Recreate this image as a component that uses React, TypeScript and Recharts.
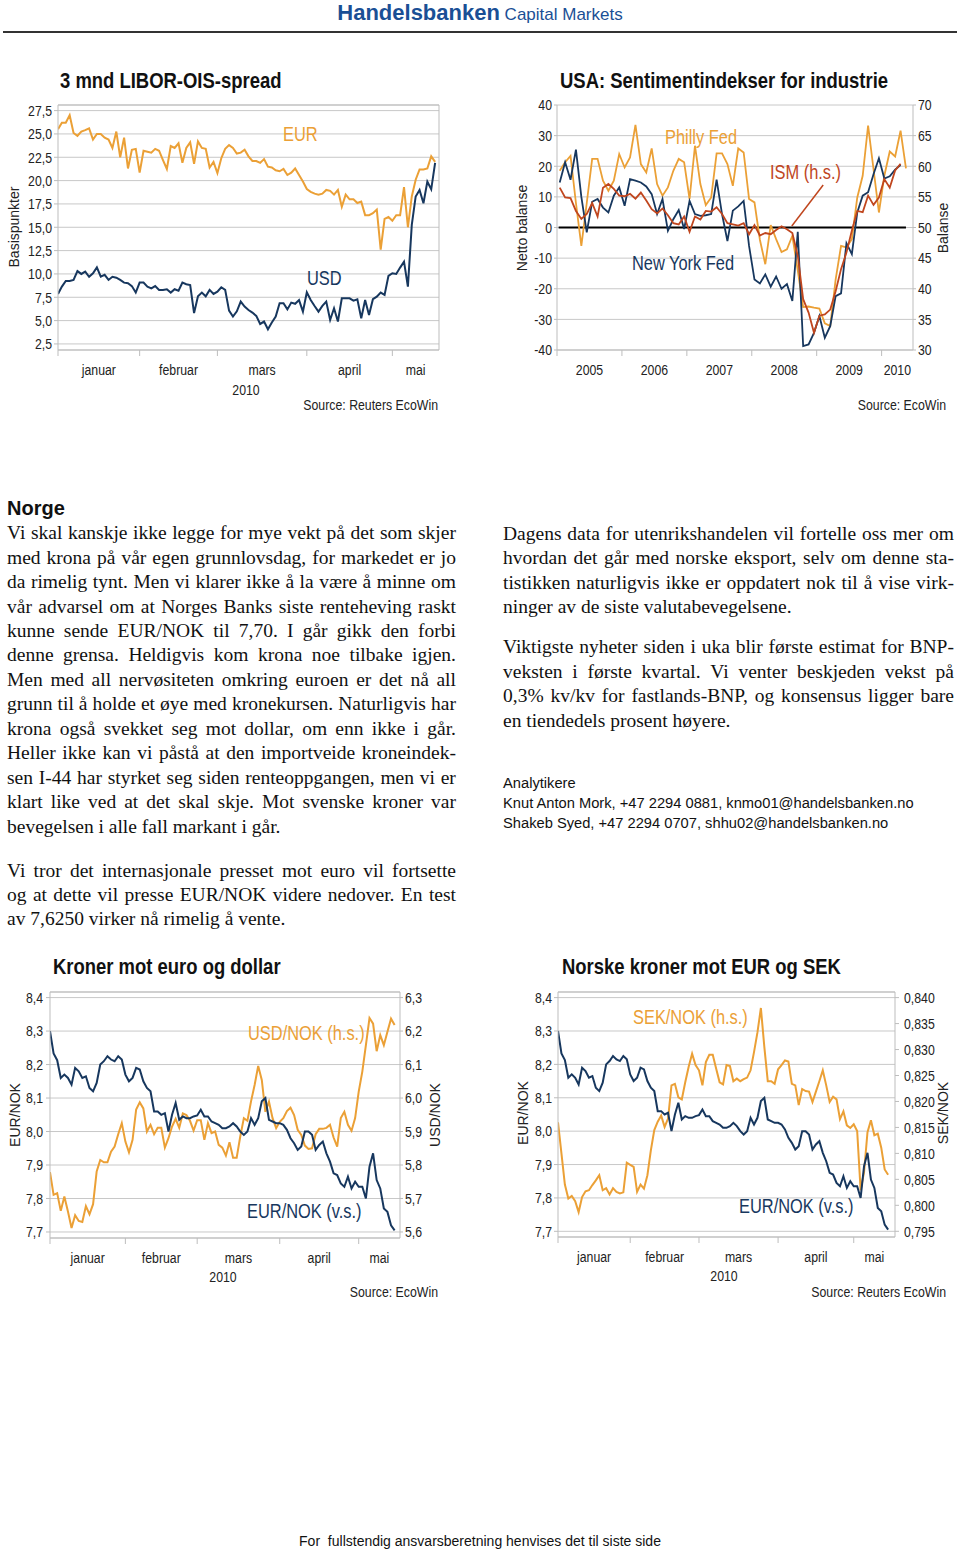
import React from 'react';
import { LineChart, Line, XAxis, YAxis, CartesianGrid, ReferenceLine } from 'recharts';

const NARROW = "'Liberation Sans', Arial, sans-serif";
const SANS = "'Liberation Sans', Arial, sans-serif";
const SERIF = "'Liberation Serif', 'Times New Roman', serif";
const SX = 0.82; // horizontal squeeze emulating a narrow face

const ORANGE = '#EBA036';
const NAVY = '#17375E';
const RED = '#C0461E';
const GRID = '#C8C8C8';
const FRAME = '#BDBDBD';
const TXT = '#222';
const BLUE = '#1a4f95';

// ---------- Chart 1: 3 mnd LIBOR-OIS-spread (business-day index) ----------
const liborEur = [
  25.5, 26.2, 26.2, 27.0, 25.1, 24.8, 25.25, 25.4, 25.6, 24.4,
  25.0, 25.0, 24.6, 24.4, 23.5, 25.25, 22.5, 24.6, 21.3, 23.3,
  23.4, 20.85, 23.2, 23.1, 23.0, 23.4, 23.2, 22.2, 21.25, 23.7,
  23.5, 24.0, 21.9, 23.5, 24.1, 21.8, 24.2, 23.5, 23.4, 21.4,
  22.0, 20.8, 22.4, 23.4, 23.8, 23.5, 22.9, 23.0, 23.3, 22.6,
  22.1, 22.1, 21.9, 22.3, 21.5, 21.4, 21.1, 21.0, 21.25, 20.6,
  20.85, 21.3, 20.6, 19.9, 19.1, 18.8, 18.6, 18.5, 18.6, 19.0,
  18.9, 18.5, 19.0, 17.2, 18.5, 18.0, 18.0, 17.6, 17.75, 16.3,
  16.3, 16.5, 16.9, 12.6, 15.9, 16.1, 15.7, 16.3, 16.3, 19.3,
  15.0, 18.3, 20.1, 21.2, 21.2, 21.3, 22.6, 22.0,
];
const liborUsd = [
  7.86, 8.64, 9.25, 9.25, 9.36, 10.3, 10.0, 10.25, 9.7, 10.07,
  10.7, 9.7, 9.9, 9.36, 9.7, 9.6, 9.36, 9.07, 9.0, 8.7,
  8.0, 9.07, 9.07, 8.64, 8.46, 8.7, 8.29, 8.29, 8.36, 8.0,
  8.36, 8.2, 9.07, 8.9, 8.8, 5.8, 7.6, 8.0, 7.6, 8.29,
  7.86, 8.1, 8.57, 8.29, 6.07, 5.43, 6.0, 7.04, 6.5, 6.14,
  5.86, 5.5, 4.64, 4.9, 4.07, 4.79, 5.43, 6.86, 6.86, 6.2,
  6.93, 6.8, 7.2, 5.96, 8.04, 7.21, 6.57, 5.96, 6.57, 7.04,
  5.07, 6.32, 4.9, 7.39, 7.39, 7.39, 7.14, 7.29, 5.25, 7.21,
  5.61, 7.29, 7.57, 8.0, 7.75, 9.79, 10.07, 10.0, 10.68, 11.32,
  8.64, 15.25, 18.3, 19.0, 17.57, 19.9, 19.07, 21.9,
];
const liborTicks = [2.5, 5, 7.5, 10, 12.5, 15, 17.5, 20, 22.5, 25, 27.5];
const liborDomain: [number, number] = [1.85, 28.1];
const monthNames = ['januar', 'februar', 'mars', 'april', 'mai'];
const monthStarts = [0, 21, 41, 64, 86];
const liborEnd = 98;

// ---------- Chart 2: USA sentiment (monthly, Jan 2005 = 0) ----------
const philly = [
  18.5, 21.3, 23.4, 8, -6, 8, 22.4, 22.4, 15.3, 12.0,
  15.3, 24, 19.6, 22.9, 33.5, 20.7, 18.0, 25.8, 14.2, 10.4,
  13.1, 18.5, 22.4, 21.3, 9.3, 26.7, 14.2, 7.3, 9.8, 24.2,
  24.2, 20.7, 13.6, 25.8, 24.5, 9.3, 8.2, -4, -12, 0.8,
  -3.8, -8, -7.1, -2.7, -14, -26, -25.8, -26.2, -26.5, -31.3,
  -32.2, -17, -6, -6.5, -3.8, 9.8, 16.9, 33.3, 19.1, 4.9,
  16.9, 24.8, 23.2, 31.6, 19.3,
];
const nyFed = [
  14.7, 21.3, 15.6, 25.4, 10, -1.6, 8.4, 9.3, 6.5, 4.9,
  10.4, 13.1, 7.1, 15.8, 15.3, 14.7, 13.4, 10.9, 4.4, 9.3,
  -1.1, 2.7, 5.7, -0.5, 8.7, 4.4, 3.8, 4.0, 4.4, 15.6,
  4.4, -4.4, 5.5, 6.9, 8.7, -6, -17, -18.3, -15.3, -19.3,
  -16, -20, -18.5, -24, -1.4, -38.7, -38.2, -34.4, -28.9, -36,
  -32.2, -22.4, -21.5, -5.1, -8.7, 4.9, 10.4, 11.5, 17.4, 22.6,
  16.0, 16.7, 18.9, 20.4,
];
const ism = [
  56.5, 54.9, 54.8, 52.7, 51.4, 52.2, 54.0, 51.8, 56.5, 57.1,
  56.3, 55.2, 55.1, 55.5, 54.7, 55.7, 54.4, 53.0, 52.3, 53.1,
  52.0, 50.7, 50.5, 51.8, 49.3, 51.8, 51.3, 52.7, 52.6, 53.3,
  52.2, 50.7, 50.5, 50.3, 50.7, 48.9, 50.4, 48.7, 49.1, 48.9,
  49.6, 50.2, 49.7, 49.1, 45.4, 38.3, 36.1, 32.8, 35.6, 35.8,
  36.6, 39.6, 43.2, 45.9, 49.5, 52.7, 52.5, 55.2, 53.7, 54.9,
  57.9, 56.5, 59.3, 60.4,
];
const sentLeftTicks = [-40, -30, -20, -10, 0, 10, 20, 30, 40];
const sentRightTicks = [30, 35, 40, 45, 50, 55, 60, 65, 70];
const yearNames = ['2005', '2006', '2007', '2008', '2009', '2010'];
const yearStarts = [0, 12, 24, 36, 48, 60];
const sentEnd = 65.8;
const zeroSegment = [{ x: 0.3, y: 0 }, { x: 64.5, y: 0 }];
const ismArrow = [{ x: 43.4, y: 0.5 }, { x: 49.2, y: 13.9 }];

// ---------- Charts 3 & 4: NOK crosses (business-day index) ----------
const eurNok = [
  8.30, 8.233, 8.213, 8.16, 8.17, 8.16, 8.14, 8.19, 8.18, 8.16,
  8.165, 8.13, 8.12, 8.145, 8.20, 8.21, 8.225, 8.215, 8.21, 8.225,
  8.215, 8.17, 8.15, 8.16, 8.19, 8.185, 8.15, 8.13, 8.12, 8.06,
  8.06, 8.05, 8.055, 8.0, 8.05, 8.085, 8.035, 8.045, 8.04, 8.04,
  8.045, 8.048, 8.065, 8.045, 8.045, 8.03, 8.025, 8.02, 8.01, 8.01,
  8.015, 8.025, 8.015, 8.0, 7.99, 8.0, 8.04, 8.02, 8.04, 8.09,
  8.1, 8.035, 8.03, 8.025, 8.025, 8.02, 8.005, 7.98, 7.965, 7.945,
  7.955, 8.0, 8.0, 7.99, 7.945, 7.96, 7.97, 7.935, 7.91, 7.875,
  7.87, 7.845, 7.835, 7.865, 7.83, 7.85, 7.835, 7.835, 7.8, 7.895,
  7.935, 7.855, 7.83, 7.77, 7.76, 7.72, 7.705,
];
const usdNok = [
  5.779, 5.711, 5.716, 5.663, 5.706, 5.661, 5.612, 5.65, 5.633, 5.63,
  5.677, 5.653, 5.683, 5.781, 5.815, 5.808, 5.808, 5.84, 5.855, 5.892,
  5.925, 5.87, 5.838, 5.875, 5.966, 5.987, 5.969, 5.9, 5.92, 5.892,
  5.911, 5.911, 5.852, 5.88, 5.915, 5.938, 5.911, 5.954, 5.949, 5.932,
  5.903, 5.934, 5.934, 5.875, 5.925, 5.895, 5.9, 5.86, 5.852, 5.828,
  5.868, 5.822, 5.822, 5.885, 5.94, 5.932, 5.99, 6.039, 6.096, 6.054,
  5.959, 5.989, 5.94, 5.91, 5.929, 5.94, 5.961, 5.971, 5.949, 5.905,
  5.89, 5.858, 5.848, 5.85, 5.892, 5.908, 5.908, 5.911, 5.92, 5.882,
  5.855, 5.94, 5.959, 5.92, 5.902, 5.94, 6.019, 6.079, 6.158, 6.239,
  6.222, 6.14, 6.188, 6.158, 6.198, 6.237, 6.218,
];
const sekNok = [
  0.8160, 0.8100, 0.8040, 0.8013, 0.8018, 0.8008, 0.7987, 0.8016, 0.8027, 0.8029,
  0.8039, 0.8048, 0.8058, 0.8029, 0.8033, 0.8021, 0.8033, 0.8026, 0.8023, 0.8025,
  0.8082, 0.8078, 0.8074, 0.8026, 0.8040, 0.8032, 0.8058, 0.8106, 0.8145, 0.8161,
  0.8173, 0.8151, 0.8167, 0.8231, 0.8234, 0.8208, 0.8204, 0.8237, 0.8267, 0.8292,
  0.8270, 0.8260, 0.8231, 0.8276, 0.8290, 0.8290, 0.8263, 0.8237, 0.8233, 0.8270,
  0.8268, 0.8239, 0.8244, 0.8239, 0.8243, 0.8246, 0.8260, 0.8295, 0.8333, 0.8380,
  0.8305, 0.8239, 0.8239, 0.8234, 0.8262, 0.8270, 0.8279, 0.8277, 0.8234, 0.8231,
  0.8193, 0.8224, 0.8220, 0.8219, 0.8199, 0.8219, 0.8239, 0.8260, 0.8231, 0.8199,
  0.8209, 0.8204, 0.8166, 0.8181, 0.8154, 0.8149, 0.8156, 0.8143, 0.8029, 0.8064,
  0.8141, 0.8164, 0.8135, 0.8138, 0.8111, 0.8069, 0.8059,
];
const eurNokTicks = [7.7, 7.8, 7.9, 8.0, 8.1, 8.2, 8.3, 8.4];
const usdNokTicks = [5.6, 5.7, 5.8, 5.9, 6.0, 6.1, 6.2, 6.3];
const sekNokTicks = [0.795, 0.8, 0.805, 0.81, 0.815, 0.82, 0.825, 0.83, 0.835, 0.84];
const chart3End = 97.5;
const chart4End = 98;

// ---------- text ----------
const leftPara1 = [
  'Vi skal kanskje ikke legge for mye vekt på det som skjer',
  'med krona på vår egen grunnlovsdag, for markedet er jo',
  'da rimelig tynt. Men vi klarer ikke å la være å minne om',
  'vår advarsel om at Norges Banks siste renteheving raskt',
  'kunne sende EUR/NOK til 7,70. I går gikk den forbi',
  'denne grensa. Heldigvis kom krona noe tilbake igjen.',
  'Men med all nervøsiteten omkring euroen er det nå all',
  'grunn til å holde et øye med kronekursen. Naturligvis har',
  'krona også svekket seg mot dollar, om enn ikke i går.',
  'Heller ikke kan vi påstå at den importveide kroneindek-',
  'sen I-44 har styrket seg siden renteoppgangen, men vi er',
  'klart like ved at det skal skje. Mot svenske kroner var',
  'bevegelsen i alle fall markant i går.',
];
const leftPara2 = [
  'Vi tror det internasjonale presset mot euro vil fortsette',
  'og at dette vil presse EUR/NOK videre nedover. En test',
  'av 7,6250 virker nå rimelig å vente.',
];
const rightPara1 = [
  'Dagens data for utenrikshandelen vil fortelle oss mer om',
  'hvordan det går med norske eksport, selv om denne sta-',
  'tistikken naturligvis ikke er oppdatert nok til å vise virk-',
  'ninger av de siste valutabevegelsene.',
];
const rightPara2 = [
  'Viktigste nyheter siden i uka blir første estimat for BNP-',
  'veksten i første kvartal. Vi venter beskjeden vekst på',
  '0,3% kv/kv for fastlands-BNP, og konsensus ligger bare',
  'en tiendedels prosent høyere.',
];
const analysts = [
  'Analytikere',
  'Knut Anton Mork, +47 2294 0881, knmo01@handelsbanken.no',
  'Shakeb Syed, +47 2294 0707, shhu02@handelsbanken.no',
];

// ---------- helpers ----------
const fmt = (d: number) => (v: number) => v.toFixed(d).replace('.', ',');

function periodTicks(starts: number[], end: number, names: string[]) {
  const mids = starts.map((s, i) => (s + (i + 1 < starts.length ? starts[i + 1] : end)) / 2);
  const labelAt = new Map<number, string>();
  mids.forEach((m, i) => labelAt.set(m, names[i]));
  const ticks = [...starts, ...mids];
  const render = (props: any) => {
    const { x, y, payload } = props;
    const v = payload.value;
    if (labelAt.has(v)) {
      return (
        <text transform={`translate(${x},${y + 25}) scale(${SX},1)`} textAnchor="middle" fontFamily={NARROW} fontSize={15} fill={TXT}>
          {labelAt.get(v)}
        </text>
      );
    }
    return <line x1={x} y1={y} x2={x} y2={y + 6} stroke={FRAME} strokeWidth={1} />;
  };
  return { ticks, render };
}

const yTick = (f: (v: number) => string) => (props: any) => {
  const { x, y, payload, textAnchor } = props;
  return (
    <text transform={`translate(${x},${y}) scale(${SX},1)`} textAnchor={textAnchor} dy="0.355em" fontFamily={NARROW} fontSize={15} fill={TXT}>
      {f(payload.value)}
    </text>
  );
};
const intFmt = (v: number) => String(v);

function Txt({ x, y, text, size, color = TXT, font = NARROW, weight = 400, anchor = 'start', squeeze = SX }: any) {
  const origin = anchor === 'middle' ? 'center' : anchor === 'end' ? 'right' : 'left';
  const shift = anchor === 'middle' ? 'translateX(-50%) ' : anchor === 'end' ? 'translateX(-100%) ' : '';
  return (
    <div
      style={{
        position: 'absolute', left: x, top: y - size * 0.6, fontSize: size, lineHeight: `${size * 1.2}px`,
        fontFamily: font, fontWeight: weight, color, whiteSpace: 'pre',
        transform: `${shift}scaleX(${squeeze})`, transformOrigin: `${origin} center`,
      }}
    >
      {text}
    </div>
  );
}

function VTxt({ x, y, text, size = 14 }: any) {
  return (
    <div
      style={{
        position: 'absolute', left: x, top: y, transform: 'translate(-50%,-50%) rotate(-90deg)',
        fontSize: size, lineHeight: `${size * 1.2}px`, fontFamily: SANS, color: TXT, whiteSpace: 'pre',
      }}
    >
      {text}
    </div>
  );
}

function Para({ lines, x, baseline, w }: { lines: string[]; x: number; baseline: number; w: number }) {
  const LH = 24.45;
  return (
    <>
      {lines.map((ln, i) => {
        const last = i === lines.length - 1;
        return (
          <div
            key={i}
            style={{
              position: 'absolute', left: x, top: baseline + i * LH - 18.8, width: w, height: LH,
              display: 'flex', justifyContent: last ? 'flex-start' : 'space-between',
              fontFamily: SERIF, fontSize: 19.5, lineHeight: `${LH}px`, color: '#111', whiteSpace: 'pre',
            }}
          >
            {last ? ln : ln.split(' ').map((wd, j) => <span key={j}>{wd}</span>)}
          </div>
        );
      })}
    </>
  );
}

// ---------- charts ----------
function LiborChart() {
  const data = liborEur.map((v, i) => ({ x: i, eur: v, usd: liborUsd[i] }));
  const xt = periodTicks(monthStarts, liborEnd, monthNames);
  return (
    <LineChart width={460} height={300} data={data} margin={{ top: 10, right: 21, bottom: 15, left: 0 }}>
      <CartesianGrid vertical={false} stroke={GRID} />
      <XAxis dataKey="x" type="number" domain={[0, liborEnd]} ticks={xt.ticks} interval={0} tickSize={0} tickMargin={0}
        tickLine={false} axisLine={{ stroke: FRAME }} tick={xt.render} height={30} allowDataOverflow />
      <YAxis type="number" domain={liborDomain} ticks={liborTicks} interval={0} width={58}
        tickSize={4} tickMargin={2} axisLine={{ stroke: FRAME }} tickLine={{ stroke: FRAME }} tick={yTick(fmt(1))} allowDataOverflow />
      <ReferenceLine y={liborDomain[1]} stroke={FRAME} />
      <ReferenceLine x={liborEnd} stroke={FRAME} />
      <Line dataKey="eur" stroke={ORANGE} strokeWidth={2} dot={false} isAnimationActive={false} type="linear" />
      <Line dataKey="usd" stroke={NAVY} strokeWidth={2} dot={false} isAnimationActive={false} type="linear" />
    </LineChart>
  );
}

function SentimentChart() {
  const data = philly.map((v, m) => ({ x: m + 0.5, philly: v, ny: nyFed[m], ism: ism[m] }));
  const xt = periodTicks(yearStarts, sentEnd, yearNames);
  return (
    <LineChart width={460} height={300} data={data} margin={{ top: 10, right: 0, bottom: 15, left: 0 }}>
      <CartesianGrid vertical={false} stroke={GRID} yAxisId="left" />
      <XAxis dataKey="x" type="number" domain={[0, sentEnd]} ticks={xt.ticks} interval={0} tickSize={0} tickMargin={0}
        tickLine={false} axisLine={{ stroke: FRAME }} tick={xt.render} height={30} allowDataOverflow />
      <YAxis yAxisId="left" type="number" domain={[-40, 40]} ticks={sentLeftTicks} interval={0} width={57}
        tickSize={3} tickMargin={2} axisLine={{ stroke: FRAME }} tickLine={{ stroke: FRAME }} tick={yTick(intFmt)} allowDataOverflow />
      <YAxis yAxisId="right" orientation="right" type="number" domain={[30, 70]} ticks={sentRightTicks} interval={0} width={47}
        tickSize={3} tickMargin={2} axisLine={{ stroke: FRAME }} tickLine={{ stroke: FRAME }} tick={yTick(intFmt)} allowDataOverflow />
      <ReferenceLine yAxisId="left" segment={zeroSegment} stroke="#000" strokeWidth={2} />
      <ReferenceLine yAxisId="left" segment={ismArrow} stroke={RED} strokeWidth={1.5} />
      <Line yAxisId="left" dataKey="philly" stroke={ORANGE} strokeWidth={1.8} dot={false} isAnimationActive={false} type="linear" />
      <Line yAxisId="left" dataKey="ny" stroke={NAVY} strokeWidth={1.8} dot={false} isAnimationActive={false} type="linear" />
      <Line yAxisId="right" dataKey="ism" stroke={RED} strokeWidth={1.8} dot={false} isAnimationActive={false} type="linear" />
    </LineChart>
  );
}

function KronerChart() {
  const data = eurNok.map((v, i) => ({ x: i, eur: v, usd: usdNok[i] }));
  const xt = periodTicks(monthStarts, chart3End, monthNames);
  const leftDom: [number, number] = [7.682, 8.4167];
  return (
    <LineChart width={460} height={300} data={data} margin={{ top: 10, right: 0, bottom: 14, left: 0 }}>
      <CartesianGrid vertical={false} stroke={GRID} yAxisId="left" />
      <XAxis dataKey="x" type="number" domain={[0, chart3End]} ticks={xt.ticks} interval={0} tickSize={0} tickMargin={0}
        tickLine={false} axisLine={{ stroke: FRAME }} tick={xt.render} height={30} allowDataOverflow />
      <YAxis yAxisId="left" type="number" domain={leftDom} ticks={eurNokTicks} interval={0} width={50}
        tickSize={4} tickMargin={3} axisLine={{ stroke: FRAME }} tickLine={{ stroke: FRAME }} tick={yTick(fmt(1))} allowDataOverflow />
      <YAxis yAxisId="right" orientation="right" type="number" domain={[5.582, 6.3167]} ticks={usdNokTicks} interval={0}
        width={60} tickSize={3} tickMargin={2} axisLine={{ stroke: FRAME }} tickLine={{ stroke: FRAME }}
        tick={yTick(fmt(1))} allowDataOverflow />
      <ReferenceLine yAxisId="left" y={leftDom[1]} stroke={FRAME} />
      <Line yAxisId="right" dataKey="usd" stroke={ORANGE} strokeWidth={2} dot={false} isAnimationActive={false} type="linear" />
      <Line yAxisId="left" dataKey="eur" stroke={NAVY} strokeWidth={2} dot={false} isAnimationActive={false} type="linear" />
    </LineChart>
  );
}

function SekChart() {
  const data = eurNok.map((v, i) => ({ x: i, eur: v, sek: sekNok[i] }));
  const xt = periodTicks(monthStarts, chart4End, monthNames);
  const leftDom: [number, number] = [7.683, 8.4168];
  return (
    <LineChart width={460} height={300} data={data} margin={{ top: 10, right: 0, bottom: 15, left: 0 }}>
      <CartesianGrid vertical={false} stroke={GRID} yAxisId="left" />
      <XAxis dataKey="x" type="number" domain={[0, chart4End]} ticks={xt.ticks} interval={0} tickSize={0} tickMargin={0}
        tickLine={false} axisLine={{ stroke: FRAME }} tick={xt.render} height={30} allowDataOverflow />
      <YAxis yAxisId="left" type="number" domain={leftDom} ticks={eurNokTicks} interval={0} width={58}
        tickSize={4} tickMargin={2} axisLine={{ stroke: FRAME }} tickLine={{ stroke: FRAME }} tick={yTick(fmt(1))} allowDataOverflow />
      <YAxis yAxisId="right" orientation="right" type="number" domain={[0.7939, 0.84108]} ticks={sekNokTicks} interval={0}
        width={65} tickSize={4} tickMargin={5} axisLine={{ stroke: FRAME }} tickLine={{ stroke: FRAME }}
        tick={yTick(fmt(3))} allowDataOverflow />
      <ReferenceLine yAxisId="left" y={leftDom[1]} stroke={FRAME} />
      <Line yAxisId="right" dataKey="sek" stroke={ORANGE} strokeWidth={2} dot={false} isAnimationActive={false} type="linear" />
      <Line yAxisId="left" dataKey="eur" stroke={NAVY} strokeWidth={2} dot={false} isAnimationActive={false} type="linear" />
    </LineChart>
  );
}

export default function App() {
  return (
    <div style={{ position: 'absolute', left: 0, top: 0, width: 960, height: 1550, background: '#fff', overflow: 'hidden' }}>
      {/* header */}
      <div style={{ position: 'absolute', left: 0, top: 0, width: 960, textAlign: 'center', whiteSpace: 'pre', lineHeight: '26px', color: BLUE }}>
        <span style={{ fontFamily: SANS, fontWeight: 700, fontSize: 22 }}>Handelsbanken</span>
        <span style={{ fontFamily: SANS, fontSize: 17 }}> Capital Markets</span>
      </div>
      <div style={{ position: 'absolute', left: 3, top: 30.5, width: 954, height: 2, background: '#333' }} />

      {/* chart 1 */}
      <Txt x={60} y={80} text="3 mnd LIBOR-OIS-spread" size={22.5} weight={700} color="#111" />
      <div style={{ position: 'absolute', left: 0, top: 95 }}><LiborChart /></div>
      <VTxt x={14} y={227} text="Basispunkter" />
      <Txt x={283} y={134} text="EUR" size={20} color={ORANGE} />
      <Txt x={307} y={278} text="USD" size={20} color={NAVY} />
      <Txt x={246} y={390} text="2010" size={15} anchor="middle" />
      <Txt x={438} y={405} text="Source: Reuters EcoWin" size={15} anchor="end" />

      {/* chart 2 */}
      <Txt x={560} y={80} text="USA: Sentimentindekser for industrie" size={22.5} weight={700} color="#111" />
      <div style={{ position: 'absolute', left: 500, top: 95 }}><SentimentChart /></div>
      <VTxt x={521.7} y={228} text="Netto balanse" />
      <VTxt x={943.3} y={228} text="Balanse" />
      <Txt x={665} y={137} text="Philly Fed" size={20} color={ORANGE} />
      <Txt x={770} y={172} text="ISM (h.s.)" size={20} color={RED} />
      <Txt x={632} y={263} text="New York Fed" size={20} color={NAVY} />
      <Txt x={946} y={405} text="Source: EcoWin" size={15} anchor="end" />

      {/* text */}
      <Txt x={7} y={508} text="Norge" size={20} weight={700} font={SANS} color="#111" squeeze={1} />
      <Para lines={leftPara1} x={7} baseline={540} w={449} />
      <Para lines={leftPara2} x={7} baseline={877.3} w={449} />
      <Para lines={rightPara1} x={503} baseline={540.7} w={451} />
      <Para lines={rightPara2} x={503} baseline={654} w={451} />
      {analysts.map((a, i) => (
        <div key={i} style={{ position: 'absolute', left: 503, top: 788.3 + i * 20 - 14, fontFamily: SANS, fontSize: 14.7, lineHeight: '18px', color: '#111', whiteSpace: 'pre' }}>{a}</div>
      ))}

      {/* chart 3 */}
      <Txt x={53} y={966} text="Kroner mot euro og dollar" size={22.5} weight={700} color="#111" />
      <div style={{ position: 'absolute', left: 0, top: 982 }}><KronerChart /></div>
      <VTxt x={15} y={1115} text="EUR/NOK" />
      <VTxt x={435} y={1115} text="USD/NOK" />
      <Txt x={248} y={1033} text="USD/NOK (h.s.)" size={20} color={ORANGE} />
      <Txt x={247} y={1211} text="EUR/NOK (v.s.)" size={20} color={NAVY} />
      <Txt x={223} y={1277} text="2010" size={15} anchor="middle" />
      <Txt x={438} y={1292} text="Source: EcoWin" size={15} anchor="end" />

      {/* chart 4 */}
      <Txt x={562} y={966} text="Norske kroner mot EUR og SEK" size={22.5} weight={700} color="#111" />
      <div style={{ position: 'absolute', left: 500, top: 982 }}><SekChart /></div>
      <VTxt x={522.7} y={1113} text="EUR/NOK" />
      <VTxt x={943.3} y={1113} text="SEK/NOK" />
      <Txt x={633} y={1017} text="SEK/NOK (h.s.)" size={20} color={ORANGE} />
      <Txt x={739} y={1206} text="EUR/NOK (v.s.)" size={20} color={NAVY} />
      <Txt x={724} y={1276} text="2010" size={15} anchor="middle" />
      <Txt x={946} y={1292} text="Source: Reuters EcoWin" size={15} anchor="end" />

      {/* footer */}
      <Txt x={480} y={1541} text="For  fullstendig ansvarsberetning henvises det til siste side" size={14} font={SANS} anchor="middle" color="#111" squeeze={1} />
    </div>
  );
}
